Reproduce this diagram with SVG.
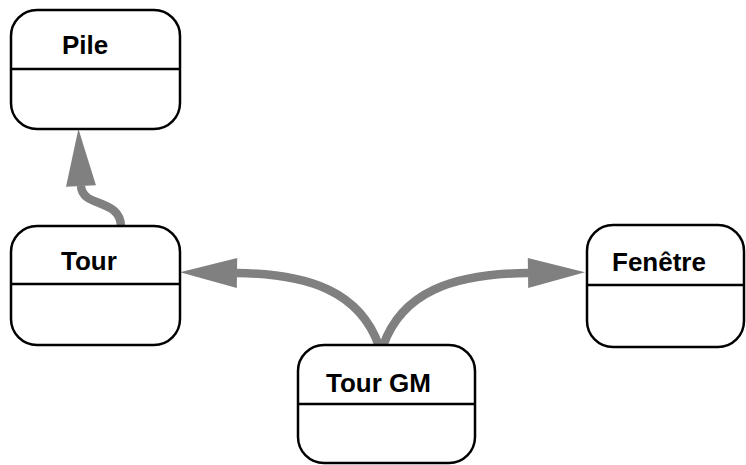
<svg xmlns="http://www.w3.org/2000/svg" width="746" height="465" viewBox="0 0 746 465">
  <defs>
    <style>
      .box { fill: #ffffff; stroke: #000000; stroke-width: 2.5; }
      .div { stroke: #000000; stroke-width: 2.5; }
      .label { font-family: "Liberation Sans", Arial, sans-serif; font-weight: bold; font-size: 26px; fill: #000000; }
      .link { fill: none; stroke: #808080; stroke-width: 8.5; }
    </style>
    <marker id="head" markerUnits="userSpaceOnUse" markerWidth="58" markerHeight="30" viewBox="0 0 58 30" refX="0" refY="15" orient="auto" overflow="visible">
      <path d="M0,0 L57,15 L0,30 Z" fill="#808080"/>
    </marker>
  </defs>

  <g id="connectors">
    <path class="link" d="M121,227 C121,198 82,208 81,186" marker-end="url(#head)"/>
    <path class="link" d="M379,346 C360,292 310,274 237,273" marker-end="url(#head)"/>
    <path class="link" d="M383,346 C402,292 452,274 528,273" marker-end="url(#head)"/>
  </g>

  <g id="pile">
    <rect class="box" x="11" y="10" width="169" height="119" rx="26" ry="26"/>
    <line class="div" x1="11" y1="69" x2="180" y2="69"/>
    <text class="label" x="62" y="54">Pile</text>
  </g>

  <g id="tour">
    <rect class="box" x="11" y="226" width="169" height="119" rx="26" ry="26"/>
    <line class="div" x1="11" y1="284" x2="180" y2="284"/>
    <text class="label" x="61" y="270">Tour</text>
  </g>

  <g id="tour-gm">
    <rect class="box" x="298" y="345" width="177" height="118" rx="26" ry="26"/>
    <line class="div" x1="298" y1="404" x2="475" y2="404"/>
    <text class="label" x="326" y="392">Tour GM</text>
  </g>

  <g id="fenetre">
    <rect class="box" x="587" y="225" width="157" height="122" rx="26" ry="26"/>
    <line class="div" x1="587" y1="285" x2="744" y2="285"/>
    <text class="label" x="612" y="271">Fenêtre</text>
  </g>
</svg>
